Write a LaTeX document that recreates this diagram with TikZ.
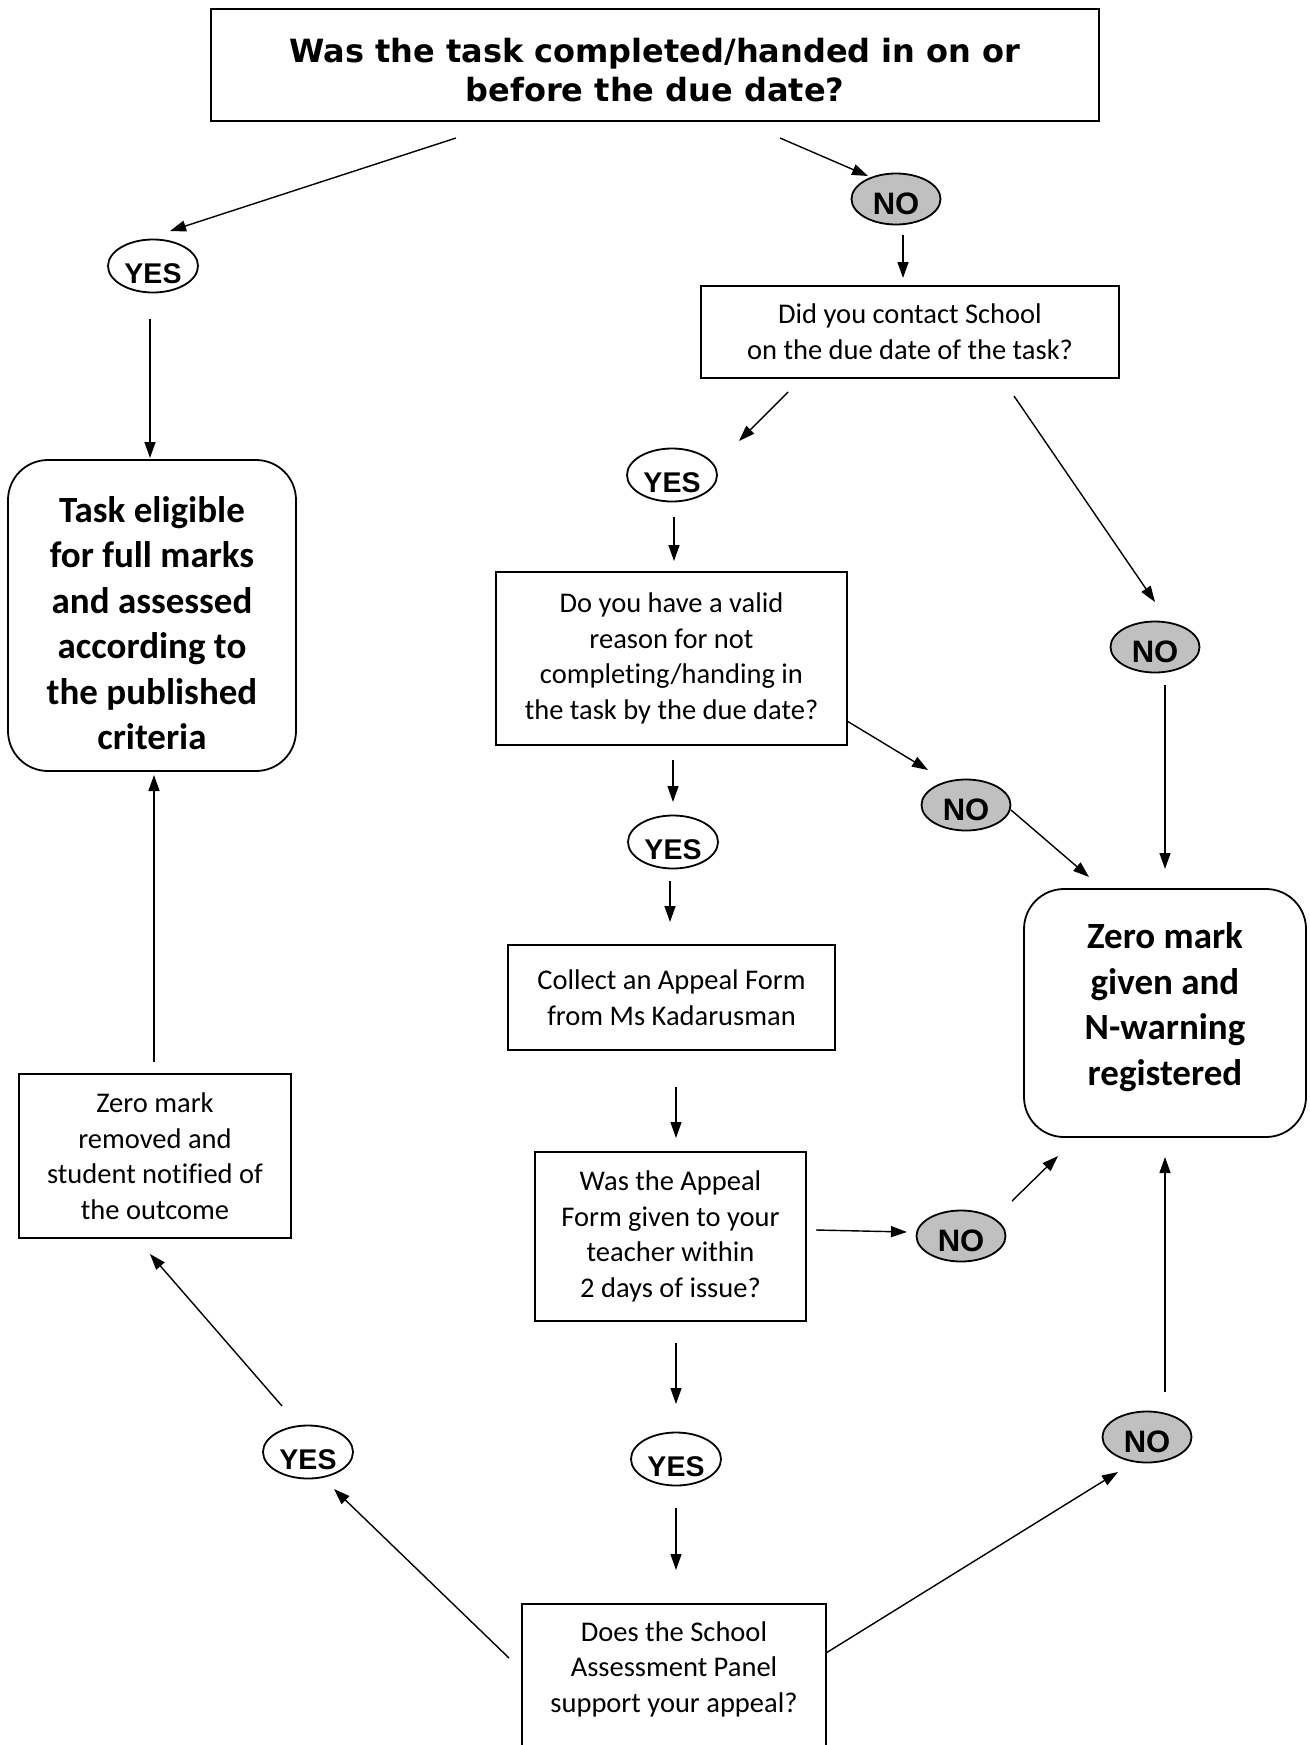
\documentclass[tikz,border=0pt]{standalone}
\usepackage{fontspec}
\setmainfont{Carlito}[Ligatures=NoCommon]
\newfontfamily\hdfont{DejaVu Sans}
\newfontfamily\ynfont{Liberation Sans}
\usetikzlibrary{arrows.meta,shapes.geometric}
\definecolor{nogray}{RGB}{192,192,192}
\begin{document}
\begin{tikzpicture}[x=1pt,y=-1pt,
  box/.style={draw,line width=1.8pt,inner sep=0pt,align=center,font=\fontsize{28.5}{35.6}\selectfont},
  bigbox/.style={draw,line width=1.8pt,rounded corners=40pt,inner sep=0pt,align=center},
  bigtext/.style={align=center,inner sep=0pt,font=\bfseries\fontsize{37}{45.5}\selectfont},
  yesnode/.style={ellipse,draw,line width=1.8pt,inner sep=0pt,minimum width=90pt,minimum height=53pt,fill=white,font=\ynfont\bfseries\fontsize{28.5}{30}\selectfont,text height=35pt,text depth=0pt},
  nonode/.style={yesnode,fill=nogray,font=\ynfont\bfseries\fontsize{31}{32}\selectfont,text height=30pt,minimum width=89pt,minimum height=51pt},
  conn/.style={line width=1.4pt,-{Triangle[length=16pt,width=11pt]}}]
\fill[white] (0,0) rectangle (1309,1745);
\useasboundingbox (0,0) rectangle (1309,1745);

% nodes
\node[draw, line width=1.8pt, minimum width=888pt, minimum height=112pt, inner sep=0pt] (top) at (655,65) {};
\node[align=center, inner sep=0pt, font=\hdfont\bfseries\fontsize{32}{39}\selectfont] (topt) at (655,70) {Was the task completed/handed in on or\\before the due date?};
\node[yesnode] (yes1) at (153,266) {YES};
\node[nonode] (no1) at (896,199) {NO};
\node[box, minimum width=418pt, minimum height=92pt] (q2) at (910,332) {Did you contact School\\on the due date of the task?};
\node[bigbox, minimum width=288pt, minimum height=311pt] (task) at (152,615.5) {};
\node[bigtext] (taskt) at (152,623) {Task eligible\\for full marks\\and assessed\\according to\\the published\\criteria};
\node[yesnode] (yes2) at (672,475) {YES};
\node[nonode] (no2) at (1155,647) {NO};
\node[box, minimum width=351pt, minimum height=173pt] (q3) at (671.5,658.5) {Do you have a valid\\reason for not\\completing/handing in\\the task by the due date?};
\node[nonode] (no3) at (966,805) {NO};
\node[yesnode] (yes3) at (673,842) {YES};
\node[box, minimum width=327pt, minimum height=105pt] (q4) at (671.5,997.5) {Collect an Appeal Form\\from Ms Kadarusman};
\node[box, minimum width=271pt, minimum height=169pt] (q5) at (670.5,1236.5) {Was the Appeal\\Form given to your\\teacher within\\2 days of issue?};
\node[nonode] (no4) at (961,1236) {NO};
\node[bigbox, minimum width=282pt, minimum height=248pt] (zero) at (1165,1013) {};
\node[bigtext] (zerot) at (1165,1007) {Zero mark\\given and\\N-warning\\registered};
\node[yesnode] (yes4) at (676,1459) {YES};
\node[nonode] (no5) at (1147,1437) {NO};
\node[draw, line width=1.8pt, minimum width=304pt, minimum height=260pt, anchor=north, inner sep=0pt] (q6) at (674,1603) {};
\node[align=center, inner sep=0pt, font=\fontsize{28.5}{35.6}\selectfont] (q6t) at (674,1669) {Does the School\\Assessment Panel\\support your appeal?};
\node[yesnode] (yes5) at (308,1452) {YES};
\node[box, minimum width=272pt, minimum height=164pt] (rem) at (155,1156) {Zero mark\\removed and\\student notified of\\the outcome};

% connector end points
\coordinate (c1s) at (456,138);  \coordinate (c1e) at (170,231);
\coordinate (c2s) at (780,138);  \coordinate (c2e) at (868,176);
\coordinate (c3s) at (903,235);  \coordinate (c3e) at (903,278);
\coordinate (c4s) at (150,319);  \coordinate (c4e) at (150,458);
\coordinate (c5s) at (788,392);  \coordinate (c5e) at (739,441);
\coordinate (c6s) at (1014,396); \coordinate (c6e) at (1155,602);
\coordinate (c7s) at (674,517);  \coordinate (c7e) at (674,561);
\coordinate (c8s) at (847,721);  \coordinate (c8e) at (928,770);
\coordinate (c9s) at (1011,810); \coordinate (c9e) at (1089,877);
\coordinate (c10s) at (1165,685); \coordinate (c10e) at (1165,869);
\coordinate (c11s) at (673,760); \coordinate (c11e) at (673,802);
\coordinate (c12s) at (670,881); \coordinate (c12e) at (670,922);
\coordinate (c13s) at (676,1087); \coordinate (c13e) at (676,1138);
\coordinate (c14s) at (816,1230); \coordinate (c14e) at (907,1232);
\coordinate (c15s) at (1012,1201); \coordinate (c15e) at (1058,1156);
\coordinate (c16s) at (1165,1392); \coordinate (c16e) at (1165,1157);
\coordinate (c17s) at (676,1343); \coordinate (c17e) at (676,1404);
\coordinate (c18s) at (676,1508); \coordinate (c18e) at (676,1570);
\coordinate (c19s) at (826,1653); \coordinate (c19e) at (1118,1472);
\coordinate (c20s) at (509,1658); \coordinate (c20e) at (334,1489);
\coordinate (c21s) at (282,1406); \coordinate (c21e) at (150,1254);
\coordinate (c22s) at (154,1062); \coordinate (c22e) at (154,775);

\foreach \i in {1,...,22} {\draw[conn] (c\i s) -- (c\i e);}
\end{tikzpicture}
\end{document}
